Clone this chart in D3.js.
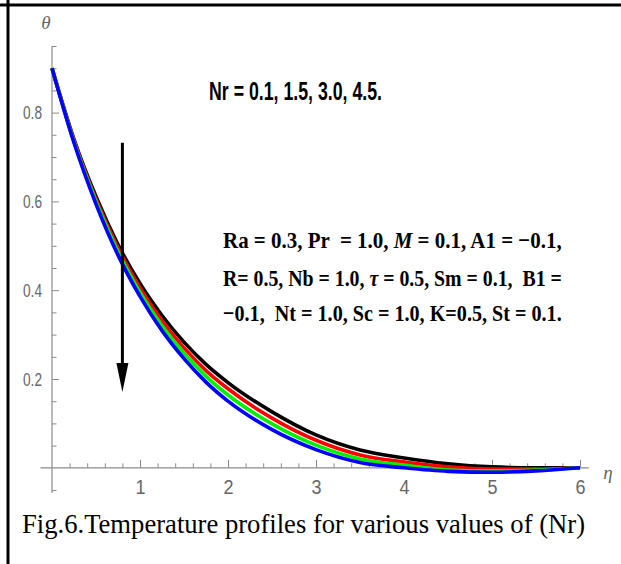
<!DOCTYPE html>
<html>
<head>
<meta charset="utf-8">
<script src="https://cdn.jsdelivr.net/npm/d3@7/dist/d3.min.js"></script>
<style>
  body { margin: 0; background: #fff; }
  svg { display: block; }
</style>
</head>
<body>
<svg id="chart" width="621" height="564"></svg>
<script>
// Similarity variable eta and temperature profiles theta(eta) for several Nr values
const eta = [0, 0.25, 0.5, 0.75, 1, 1.25, 1.5, 1.75, 2, 2.5, 3, 3.5, 4, 4.5, 5, 5.5, 6];
const nrLabels = ["0.1", "1.5", "3.0", "4.5"];
const thetaNr01 = [0.900, 0.740, 0.611, 0.503, 0.415, 0.343, 0.283, 0.233, 0.192, 0.126, 0.074, 0.040, 0.022, 0.009, 0.002, 0.000, 0];
const thetaNr15 = [0.900, 0.737, 0.605, 0.495, 0.405, 0.331, 0.270, 0.219, 0.178, 0.112, 0.062, 0.029, 0.013, 0.002, -0.003, -0.003, 0];
const thetaNr30 = [0.900, 0.734, 0.600, 0.487, 0.395, 0.320, 0.258, 0.206, 0.164, 0.099, 0.051, 0.020, 0.006, -0.005, -0.007, -0.005, 0];
const thetaNr45 = [0.900, 0.732, 0.594, 0.479, 0.386, 0.309, 0.246, 0.193, 0.150, 0.086, 0.041, 0.012, 0.000, -0.008, -0.010, -0.007, 0];
const seriesColors = ["#000000", "#ff0000", "#00f000", "#0000ff"];

const xMajorTicks = [1, 2, 3, 4, 5, 6];
const xTickLabels = ["1", "2", "3", "4", "5", "6"];
const yMajorTicks = [0.2, 0.4, 0.6, 0.8];
const yTickLabels = ["0.2", "0.4", "0.6", "0.8"];

const paramLines = [
  [["Ra = 0.3, Pr  = 1.0, ", false], ["M", true], [" = 0.1, A1 = \u22120.1,", false]],
  [["R= 0.5, Nb = 1.0, ", false], ["\u03c4", true], [" = 0.5, Sm = 0.1,  B1 =", false]],
  [["\u22120.1,  Nt = 1.0, Sc = 1.0, K=0.5, St = 0.1.", false]]
];

const svg = d3.select("#chart");

// frame edges
svg.append("line").attr("x1", 0).attr("x2", 621).attr("y1", 5).attr("y2", 5)
  .attr("stroke", "#000").attr("stroke-width", 3);
svg.append("line").attr("x1", 8).attr("x2", 8).attr("y1", 0).attr("y2", 564)
  .attr("stroke", "#000").attr("stroke-width", 3);

const x = d3.scaleLinear().domain([0, 6]).range([52, 580]);
const y = d3.scaleLinear().domain([0, 0.9]).range([467.8, 68.2]);

const axisColor = "#8a8a8a";
const labelColor = "#666666";

// axis lines
svg.append("line").attr("x1", x(-0.13)).attr("x2", x(6.1))
  .attr("y1", y(0)).attr("y2", y(0)).attr("stroke", axisColor).attr("stroke-width", 1.2);
svg.append("line").attr("x1", x(0)).attr("x2", x(0))
  .attr("y1", y(-0.057)).attr("y2", y(0.95)).attr("stroke", axisColor).attr("stroke-width", 1.2);

// x axis: ticks pointing up, labels below
const xMinor = d3.range(1, 31).map(i => i * 0.2).filter(v => Math.abs(v - Math.round(v)) > 1e-6);
const gxMinor = svg.append("g").attr("transform", `translate(0,${y(0)})`)
  .call(d3.axisBottom(x).tickValues(xMinor).tickSizeInner(-4.5).tickSizeOuter(0).tickFormat(""));
const gx = svg.append("g").attr("transform", `translate(0,${y(0)})`)
  .call(d3.axisBottom(x).tickValues(xMajorTicks).tickSizeInner(-8).tickSizeOuter(0).tickPadding(12)
    .tickFormat((d, i) => xTickLabels[i]));

// y axis: ticks pointing right, labels on the left
const yMinor = d3.range(-1, 20).map(i => i * 0.05).filter(v => Math.abs(v * 5 - Math.round(v * 5)) > 1e-6);
const gyMinor = svg.append("g").attr("transform", `translate(${x(0)},0)`)
  .call(d3.axisLeft(y).tickValues(yMinor).tickSizeInner(-4.5).tickSizeOuter(0).tickFormat(""));
const gy = svg.append("g").attr("transform", `translate(${x(0)},0)`)
  .call(d3.axisLeft(y).tickValues(yMajorTicks).tickSizeInner(-7).tickSizeOuter(0).tickPadding(10)
    .tickFormat((d, i) => yTickLabels[i]));

[gxMinor, gx, gyMinor, gy].forEach(g => {
  g.select(".domain").remove();
  g.selectAll(".tick line").attr("stroke", axisColor).attr("stroke-width", 1);
});
gx.selectAll(".tick text")
  .attr("fill", labelColor).attr("font-family", "Liberation Sans, Arial, sans-serif")
  .attr("font-size", 20).attr("textLength", 10).attr("lengthAdjust", "spacingAndGlyphs");
gy.selectAll(".tick text")
  .attr("fill", labelColor).attr("font-family", "Liberation Sans, Arial, sans-serif")
  .attr("font-size", 19).attr("textLength", 19).attr("lengthAdjust", "spacingAndGlyphs");

// axis names
svg.append("text").attr("x", 46).attr("y", 29).attr("text-anchor", "middle")
  .attr("font-family", "Liberation Serif, serif").attr("font-style", "italic")
  .attr("font-size", 19).attr("fill", labelColor).text("\u03b8");
svg.append("text").attr("x", 608).attr("y", 479).attr("text-anchor", "middle")
  .attr("font-family", "Liberation Serif, serif").attr("font-style", "italic")
  .attr("font-size", 19).attr("fill", labelColor).text("\u03b7");

// profiles
const series = [thetaNr01, thetaNr15, thetaNr30, thetaNr45];
const line = d3.line().x((d, i) => x(eta[i])).y(d => y(d)).curve(d3.curveMonotoneX);
svg.append("g").selectAll("path").data(series).join("path")
  .attr("d", d => line(d))
  .attr("fill", "none")
  .attr("stroke", (d, i) => seriesColors[i])
  .attr("stroke-width", 3.6)
  .attr("stroke-linejoin", "round");

// arrow showing increasing Nr
const arrowX = x(0.8), arrowTop = y(0.732), arrowTip = y(0.171);
svg.append("line").attr("x1", arrowX).attr("x2", arrowX)
  .attr("y1", arrowTop).attr("y2", arrowTip - 20)
  .attr("stroke", "#000").attr("stroke-width", 3);
svg.append("path")
  .attr("d", `M${arrowX - 6},${arrowTip - 29} L${arrowX + 6},${arrowTip - 29} L${arrowX},${arrowTip} Z`)
  .attr("fill", "#000");

// annotations
svg.append("text").attr("x", 209).attr("y", 100)
  .attr("font-family", "Liberation Sans, Arial, sans-serif").attr("font-weight", "bold")
  .attr("font-size", 25).attr("textLength", 173).attr("lengthAdjust", "spacingAndGlyphs")
  .text("Nr = " + nrLabels.join(", ") + ".");

// parameter block: each line is squeezed horizontally to a common width
const paramBaselines = [248, 286, 321];
const paramWidth = 339;
paramLines.forEach((parts, li) => {
  const g = svg.append("g");
  const t = g.append("text").attr("x", 0).attr("y", 0)
    .attr("font-family", "Liberation Serif, Times New Roman, serif").attr("font-weight", "bold")
    .attr("font-size", 24).style("white-space", "pre");
  parts.forEach(([s, it]) => {
    t.append("tspan").attr("font-style", it ? "italic" : "normal").text(s);
  });
  const w = t.node().getComputedTextLength();
  g.attr("transform", `translate(223,${paramBaselines[li]}) scale(${paramWidth / w},1)`);
});

svg.append("text").attr("x", 22).attr("y", 533)
  .attr("font-family", "Liberation Serif, Times New Roman, serif")
  .attr("font-size", 28).attr("textLength", 563).attr("lengthAdjust", "spacingAndGlyphs")
  .text("Fig.6.Temperature profiles for various values of (Nr)");
</script>
</body>
</html>
